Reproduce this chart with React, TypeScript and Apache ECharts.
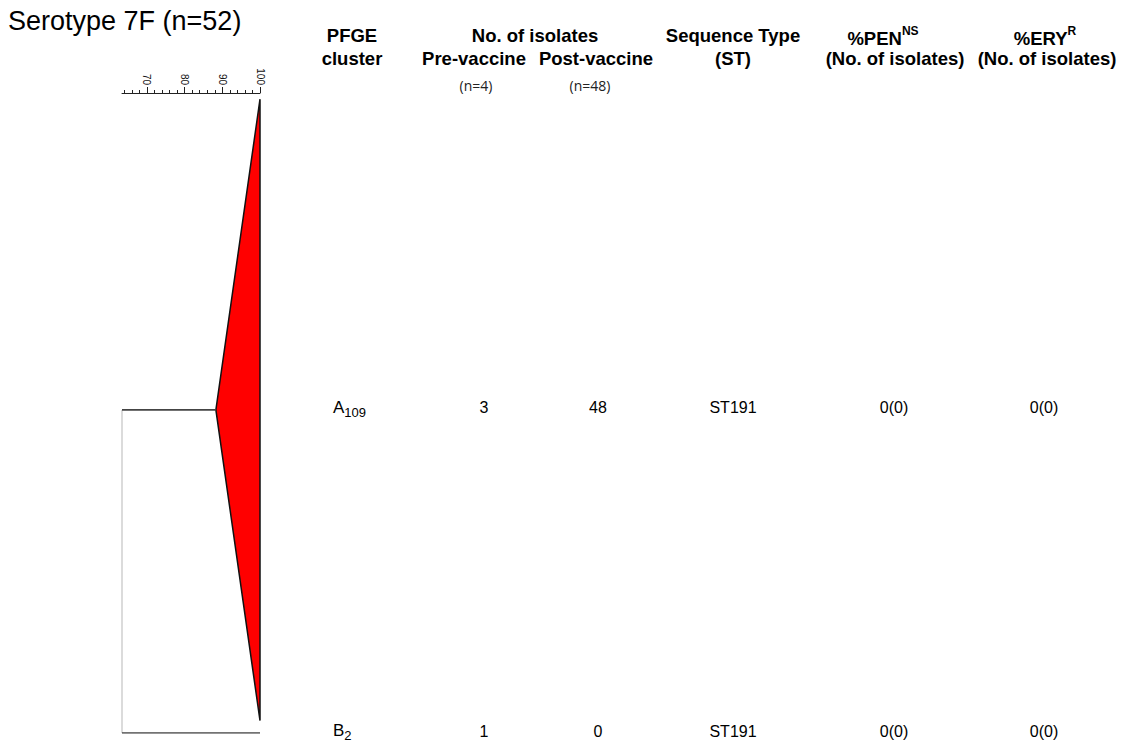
import React, { useEffect, useRef } from "react";
import * as echarts from "echarts";

// Cluster table rows
const clusterNames = ["A", "B"];
const clusterSubscripts = ["109", "2"];
const preVaccine = [3, 1];
const postVaccine = [48, 0];
const sequenceTypes = ["ST191", "ST191"];
const penNS = ["0(0)", "0(0)"];
const eryR = ["0(0)", "0(0)"];

// Dendrogram: similarity (%) at which each cluster collapses, and the root join
const clusterNodeSimilarity = [88.3, 100];
const rootSimilarity = 63.4;

// Similarity scale
const scaleMin = 63.4;
const scaleMax = 100;
const minorTicks = [64, 66, 68, 70, 72, 74, 76, 78, 80, 82, 84, 86, 88, 90, 92, 94, 96, 98, 100];
const majorTicks = [70, 80, 90, 100];

const SANS = "'Liberation Sans', Arial, Helvetica, sans-serif";
const SMALL = "'Open Sans', 'Noto Sans', sans-serif";
const HEAD = 18.5;

// isolate slots: each isolate occupies one row, clusters stacked in order
const sizes = preVaccine.map((p, i) => p + postVaccine[i]);
const firstRow: number[] = [];
const lastRow: number[] = [];
{
  let r = 1;
  sizes.forEach((s) => {
    firstRow.push(r);
    lastRow.push(r + Math.max(s, 1) - 1);
    r += Math.max(s, 1);
  });
}
const midRow = firstRow.map((f, i) => (f + lastRow[i]) / 2);
const totalRows = lastRow[lastRow.length - 1];

export default function App() {
  const ref = useRef<HTMLDivElement>(null);

  useEffect(() => {
    document.body.style.margin = "0";
    if (!ref.current) return;
    const chart = echarts.init(ref.current, null, { renderer: "svg" });

    const triangles = clusterNames
      .map((_, i) => [clusterNodeSimilarity[i], firstRow[i], lastRow[i], midRow[i], sizes[i]])
      .filter((d) => d[4] > 1);

    const branchSeries: any[] = clusterNames.map((_, i) => ({
      type: "line",
      xAxisIndex: 0,
      yAxisIndex: 0,
      symbol: "none",
      silent: true,
      lineStyle: { color: "#444", width: 1.6 },
      data: [
        [rootSimilarity, midRow[i]],
        [clusterNodeSimilarity[i], midRow[i]],
      ],
    }));

    const option: any = {
      animation: false,
      backgroundColor: "#fff",
      grid: { left: 122, right: 861, top: 93, bottom: 11, containLabel: false },
      xAxis: [
        {
          type: "value",
          position: "top",
          min: scaleMin,
          max: scaleMax,
          splitLine: { show: false },
          axisLine: { show: true, lineStyle: { color: "#222", width: 1 } },
          axisTick: { show: true, customValues: minorTicks, length: 3, lineStyle: { color: "#222" } },
          axisLabel: { show: false },
        },
        {
          type: "value",
          position: "top",
          min: scaleMin,
          max: scaleMax,
          splitLine: { show: false },
          axisLine: { show: false },
          axisTick: { show: true, customValues: majorTicks, length: 6, lineStyle: { color: "#222" } },
          axisLabel: {
            show: true,
            customValues: majorTicks,
            rotate: 90,
            fontSize: 10,
            margin: 8,
            color: "#111",
            fontFamily: SANS,
          },
        },
      ],
      yAxis: {
        type: "value",
        inverse: true,
        min: 0.5,
        max: totalRows,
        show: false,
      },
      graphic: [
        {
          type: "text",
          left: 8,
          top: 7,
          style: { text: "Serotype 7F (n=52)", fontSize: 27, fontFamily: SANS, fill: "#000" },
        },
        ...[
          ["PFGE", 352, 35],
          ["cluster", 352, 58],
          ["No. of isolates", 535, 35],
          ["Pre-vaccine", 474, 58],
          ["Post-vaccine", 596, 58],
          ["Sequence Type", 733, 35],
          ["(ST)", 733, 58],
          ["(No. of isolates)", 895, 58],
          ["(No. of isolates)", 1047, 58],
        ].map(([t, x, y]) => ({
          type: "text",
          x,
          y,
          style: {
            text: t,
            fontSize: HEAD,
            fontWeight: "bold",
            fontFamily: SANS,
            fill: "#000",
            align: "center",
            verticalAlign: "middle",
          },
        })),
        ...[
          ["%PEN", "NS", 883],
          ["%ERY", "R", 1045],
        ].map(([t, sup, x]) => ({
          type: "text",
          x,
          y: 34,
          style: {
            text: `{b|${t}}{s|${sup}}`,
            align: "center",
            verticalAlign: "middle",
            rich: {
              b: { fontSize: HEAD, fontWeight: "bold", fontFamily: SANS, fill: "#000", lineHeight: HEAD, padding: [4, 0, 0, 0], verticalAlign: "top" },
              s: { fontSize: 12, fontWeight: "bold", fontFamily: SANS, fill: "#000", lineHeight: 12, verticalAlign: "top" },
            },
          },
        })),
        ...[
          [`(n=${preVaccine.reduce((a, b) => a + b, 0)})`, 476],
          [`(n=${postVaccine.reduce((a, b) => a + b, 0)})`, 590],
        ].map(([t, x]) => ({
          type: "text",
          x,
          y: 85,
          style: { text: t, fontSize: 14, fontFamily: SMALL, fill: "#222", align: "center", verticalAlign: "middle" },
        })),
      ],
      series: [
        // collapsed clusters drawn as filled triangles
        {
          type: "custom",
          silent: true,
          data: triangles,
          encode: { x: 0, y: 3 },
          renderItem: (params: any, api: any) => {
            const node = api.value(0);
            const top = api.value(1);
            const bottom = api.value(2);
            const mid = api.value(3);
            const p0 = api.coord([node, mid]);
            const p1 = api.coord([scaleMax, top]);
            const p2 = api.coord([scaleMax, bottom]);
            return {
              type: "polygon",
              shape: { points: [p0, p1, p2] },
              style: { fill: "#ff0000", stroke: "#111", lineWidth: 1.5 },
            };
          },
        },
        // root join
        {
          type: "line",
          symbol: "none",
          silent: true,
          lineStyle: { color: "#cfcfcf", width: 1.5 },
          data: [
            [rootSimilarity, midRow[0]],
            [rootSimilarity, midRow[midRow.length - 1]],
          ],
        },
        ...branchSeries,
        // table rows
        {
          type: "custom",
          silent: true,
          data: clusterNames.map((_, i) => [scaleMax, midRow[i], i]),
          encode: { x: 0, y: 1 },
          renderItem: (params: any, api: any) => {
            const i = api.value(2);
            const y = api.coord([scaleMax, api.value(1)])[1] - 2;
            const cell = (text: string, x: number) => ({
              type: "text",
              x,
              y,
              style: { text, fontSize: 16, fontFamily: SANS, fill: "#000", align: "center", verticalAlign: "middle" },
            });
            return {
              type: "group",
              children: [
                {
                  type: "text",
                  x: 333,
                  y: y - 9,
                  style: {
                    text: `{b|${clusterNames[i]}}{s|${clusterSubscripts[i]}}`,
                    align: "left",
                    verticalAlign: "top",
                    rich: {
                      b: { fontSize: 17, fontFamily: SANS, fill: "#000", lineHeight: 17, verticalAlign: "top" },
                      s: { fontSize: 13, fontFamily: SANS, fill: "#000", lineHeight: 13, padding: [7, 0, 0, 0], verticalAlign: "top" },
                    },
                  },
                },
                cell(String(preVaccine[i]), 484),
                cell(String(postVaccine[i]), 598),
                cell(sequenceTypes[i], 733),
                cell(penNS[i], 894),
                cell(eryR[i], 1044),
              ],
            };
          },
        },
      ],
    };

    chart.setOption(option);
    return () => chart.dispose();
  }, []);

  return <div ref={ref} style={{ width: 1121, height: 744 }} />;
}
